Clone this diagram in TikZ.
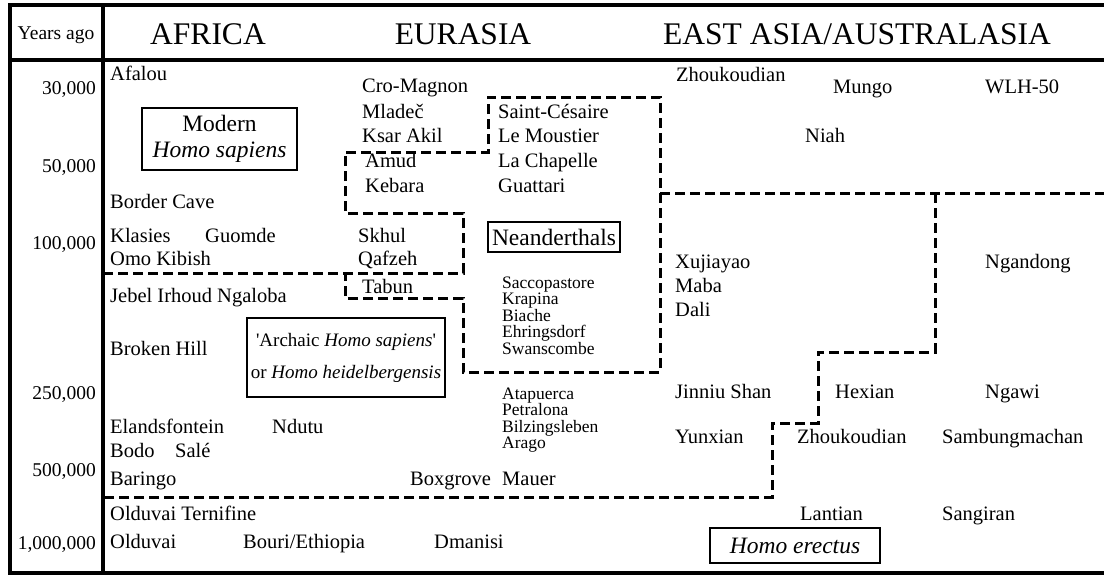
\documentclass[tikz,border=0pt]{standalone}
\usepackage{fontspec}
\setmainfont{Liberation Serif}
\usetikzlibrary{positioning}

\newcommand\sitefont{\fontsize{20.5}{20.5}\selectfont}
\newcommand\stackfont{\fontsize{17.5}{17.5}\selectfont}
\newcommand\taxonfont{\fontsize{23.5}{23.5}\selectfont}
\newcommand\headfont{\fontsize{31.5}{31.5}\selectfont}
\newcommand\yearfont{\fontsize{19.5}{19.5}\selectfont}

\begin{document}
\begin{tikzpicture}[
  x=1pt, y=-1pt,
  site/.style={anchor=base west,inner sep=0pt,font=\sitefont},
  stack/.style={site,font=\stackfont},
  year/.style={anchor=base east,inner sep=0pt,font=\yearfont},
  head/.style={anchor=base,inner sep=0pt,font=\headfont},
  taxon/.style={draw,line width=1.2pt,align=center,inner sep=0pt,font=\taxonfont},
  frame/.style={line width=4pt},
  boundary/.style={line width=3pt,dash pattern=on 10pt off 5pt}
]
\useasboundingbox (0,0) rectangle (1104,576);

% table frame
\draw[frame] (1104,5) -- (10,5) -- (10,573) -- (1104,573);
\draw[frame] (10,60) -- (1104,60);
\draw[frame] (103,5) -- (103,573);

% header
\node[anchor=base,inner sep=0pt,font=\yearfont] (yearsago) at (56,39) {Years ago};
\node[head] (africa) at (208,44) {AFRICA};
\node[head] (eurasia) at (463,44) {EURASIA};
\node[head] (eastasia) at (857,44) {EAST ASIA/AUSTRALASIA};

% time scale
\node[year] (y30) at (96,94) {30,000};
\node[year] (y50) at (96,172) {50,000};
\node[year] (y100) at (96,249) {100,000};
\node[year] (y250) at (96,399) {250,000};
\node[year] (y500) at (96,476) {500,000};
\node[year] (y1000) at (96,549) {1,000,000};

% Africa
\node[site] (afalou) at (110,80) {Afalou};
\node[site] (border) at (110,208) {Border Cave};
\node[site] (klasies) at (110,242) {Klasies};
\node[site] (guomde) at (205,242) {Guomde};
\node[site] (omo) at (110,265) {Omo Kibish};
\node[site] (jebel) at (110,302) {Jebel Irhoud Ngaloba};
\node[site] (broken) at (110,355) {Broken Hill};
\node[site] (elands) at (110,433) {Elandsfontein};
\node[site] (ndutu) at (272,433) {Ndutu};
\node[site] (bodo) at (110,457) {Bodo};
\node[site] (sale) at (175,457) {Salé};
\node[site] (baringo) at (110,485) {Baringo};
\node[site] (ternifine) at (110,520) {Olduvai Ternifine};
\node[site] (olduvai) at (110,548) {Olduvai};
\node[site] (bouri) at (243,548) {Bouri/Ethiopia};
\node[site] (dmanisi) at (434,548) {Dmanisi};

% Eurasia
\node[site] (cromagnon) at (362,92) {Cro-Magnon};
\node[site] (mladec) at (362,118) {Mladeč};
\node[site] (ksarakil) at (362,142) {Ksar Akil};
\node[site] (amud) at (365,167) {Amud};
\node[site] (kebara) at (365,192) {Kebara};
\node[site] (skhul) at (358,242) {Skhul};
\node[site] (qafzeh) at (358,265) {Qafzeh};
\node[site] (tabun) at (362,293) {Tabun};
\node[site] (cesaire) at (498,118) {Saint-Césaire};
\node[site] (moustier) at (498,142) {Le Moustier};
\node[site] (chapelle) at (498,167) {La Chapelle};
\node[site] (guattari) at (498,192) {Guattari};
\node[stack] (sacco) at (502,288) {Saccopastore};
\node[stack] (krapina) at (502,304.5) {Krapina};
\node[stack] (biache) at (502,321) {Biache};
\node[stack] (ehrings) at (502,337.5) {Ehringsdorf};
\node[stack] (swans) at (502,354) {Swanscombe};
\node[stack] (atap) at (502,399) {Atapuerca};
\node[stack] (petra) at (502,415.5) {Petralona};
\node[stack] (bilzing) at (502,432) {Bilzingsleben};
\node[stack] (arago) at (502,448.5) {Arago};
\node[site] (boxgrove) at (410,485) {Boxgrove};
\node[site] (mauer) at (502,485) {Mauer};

% East Asia / Australasia
\node[site] (zhouup) at (676,81) {Zhoukoudian};
\node[site] (mungo) at (833,93) {Mungo};
\node[site] (wlh) at (985,93) {WLH-50};
\node[site] (niah) at (805,142) {Niah};
\node[site] (xujiayao) at (675,268) {Xujiayao};
\node[site] (maba) at (675,292) {Maba};
\node[site] (dali) at (675,316) {Dali};
\node[site] (ngandong) at (985,268) {Ngandong};
\node[site] (jinniu) at (675,398) {Jinniu Shan};
\node[site] (hexian) at (835,398) {Hexian};
\node[site] (ngawi) at (985,398) {Ngawi};
\node[site] (yunxian) at (675,443) {Yunxian};
\node[site] (zhoulow) at (797,443) {Zhoukoudian};
\node[site] (sambung) at (942,443) {Sambungmachan};
\node[site] (lantian) at (800,520) {Lantian};
\node[site] (sangiran) at (942,520) {Sangiran};

% taxa
\node[taxon,minimum width=155pt,minimum height=62pt] (modern) at (219.5,139) {Modern\\[3pt]\textit{Homo sapiens}};
\node[taxon,font=\fontsize{19}{19}\selectfont,minimum width=198pt,minimum height=79pt] (archaic) at (346,357.5) {\textquotesingle Archaic \textit{Homo sapiens}\textquotesingle\\[13pt]or \textit{Homo heidelbergensis}};
\node[taxon,minimum width=132pt,minimum height=30pt] (neander) at (554,237) {Neanderthals};
\node[taxon,minimum width=170pt,minimum height=35pt] (erectus) at (795,545.5) {\textit{Homo erectus}};

% boundaries
\draw[boundary] (103,273) -- (463,273) -- (463,213) -- (345,213) -- (345,152)
  -- (488,152) -- (488,97) -- (660,97) -- (660,372) -- (463,372) -- (463,298)
  -- (345,298) -- (345,273);
\draw[boundary] (660,193) -- (1104,193);
\draw[boundary] (935,193) -- (935,352) -- (818,352) -- (818,423) -- (772,423)
  -- (772,497) -- (103,497);
\end{tikzpicture}
\end{document}
